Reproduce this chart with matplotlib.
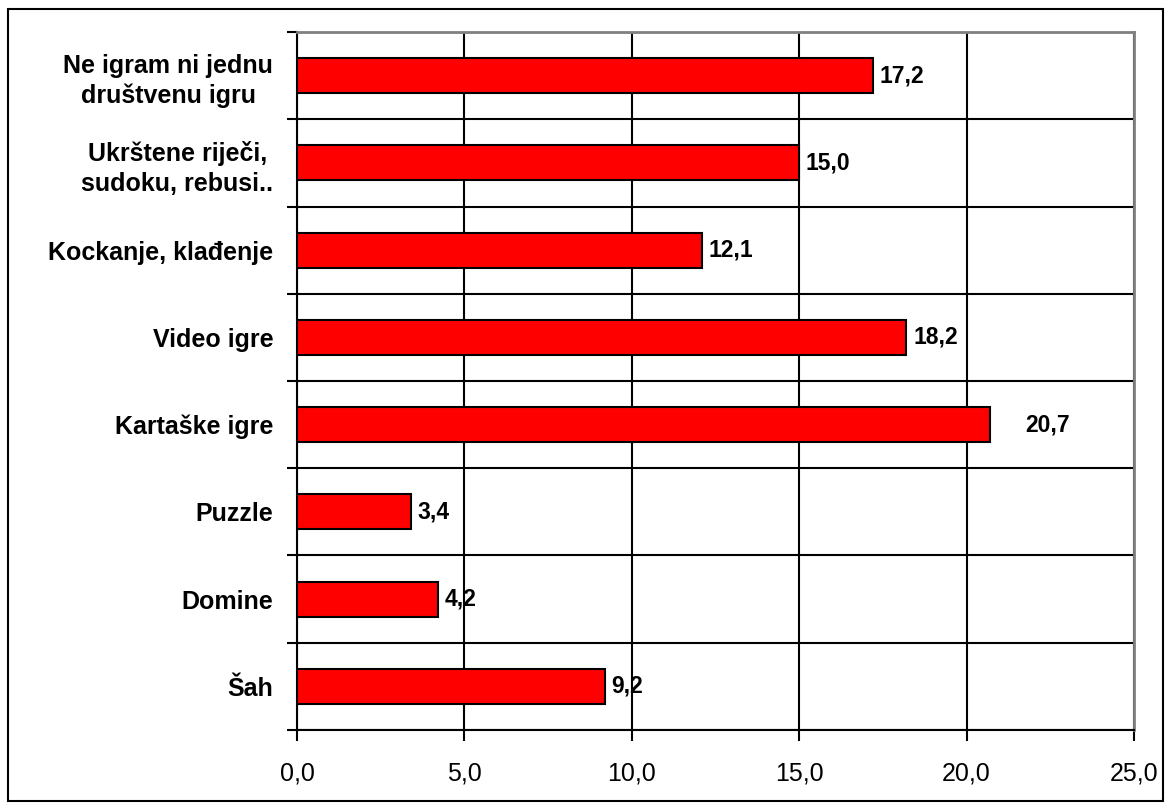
import matplotlib.pyplot as plt
from matplotlib.patches import Rectangle
from matplotlib.ticker import FuncFormatter

plt.rcParams['font.family'] = ['Liberation Sans', 'DejaVu Sans']

categories = ['Ne igram ni jednu\ndruštvenu igru', 'Ukrštene riječi,\nsudoku, rebusi..',
              'Kockanje, klađenje', 'Video igre', 'Kartaške igre', 'Puzzle', 'Domine', 'Šah']
values = [17.2, 15.0, 12.1, 18.2, 20.7, 3.4, 4.2, 9.2]
x_ticks = [0, 5, 10, 15, 20, 25]

fig = plt.figure(figsize=(11.71, 8.09), dpi=100)
ax = fig.add_axes([0.2536, 0.0977, 0.9684 - 0.2536, 0.9604 - 0.0977])

ypos = list(range(len(categories)))
ax.barh(ypos, values, height=0.40, color='#ff0000', edgecolor='black', linewidth=1.5, zorder=3)

for y, v in zip(ypos, values):
    pad = 1.05 if v > 20 else 0.2
    ax.text(v + pad, y, f'{v:.1f}'.replace('.', ','), va='center', ha='left',
            fontsize=16.5, fontweight='bold', zorder=4)

ax.set_xlim(0, 25)
ax.set_ylim(len(categories) - 0.5, -0.5)
ax.set_xticks(x_ticks)
ax.xaxis.set_major_formatter(FuncFormatter(lambda v, p: f'{v:.1f}'.replace('.', ',')))
ax.tick_params(axis='x', length=8, width=1.5, pad=15, labelsize=18)

ax.set_yticks(ypos)
ax.set_yticklabels(categories, fontsize=18, fontweight='bold', multialignment='center',
                   linespacing=1.3)
ax.set_yticks([i - 0.5 for i in range(len(categories) + 1)], minor=True)
ax.tick_params(axis='y', which='major', length=0, pad=17)
ax.tick_params(axis='y', which='minor', length=7, width=1.5)

ax.grid(axis='x', which='major', color='black', linewidth=1.5, zorder=0)
ax.grid(axis='y', which='minor', color='black', linewidth=1.5, zorder=0)

for s in ['left', 'bottom']:
    ax.spines[s].set_color('black')
    ax.spines[s].set_linewidth(1.5)
for s in ['top', 'right']:
    ax.spines[s].set_color('#808080')
    ax.spines[s].set_linewidth(2)

fig.patches.append(Rectangle((8 / 1171, 8 / 809), 1155 / 1171, 792 / 809, transform=fig.transFigure,
                             fill=False, edgecolor='black', linewidth=1.5))

fig.savefig('out.png', dpi=100)
